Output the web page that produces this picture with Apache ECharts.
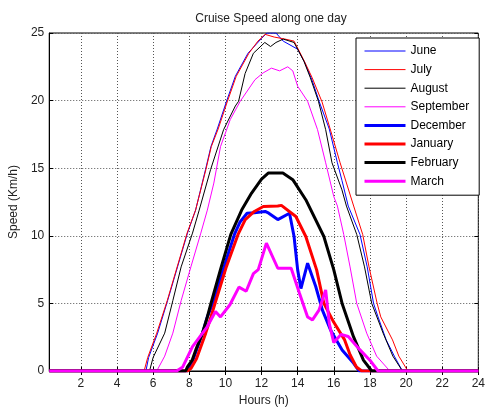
<!DOCTYPE html>
<html>
<head>
<meta charset="utf-8">
<script src="https://cdn.jsdelivr.net/npm/echarts@6/dist/echarts.min.js"></script>
<style>
  html, body { margin: 0; padding: 0; background: #fff; }
  #main { width: 488px; height: 412px; }
</style>
</head>
<body>
<div id="main"></div>
<script>
// hour ticks and month names
const hourTicks = [2, 4, 6, 8, 10, 12, 14, 16, 18, 20, 22, 24];
const months = ['June', 'July', 'August', 'September', 'December', 'January', 'February', 'March'];

// [hour, speed km/h]
const june = [[0.25,0],[5.6,0],[5.75,1.0],[6.25,2.8],[6.8,5.2],[7.35,7.7],[7.9,10.2],[8.35,11.9],[8.9,14.9],[9.2,16.6],[9.55,17.9],[10.05,19.9],[10.55,21.8],[11.25,23.5],[12.0,24.6],[12.3,25.0],[12.8,25.0],[13.2,24.4],[14.0,23.8],[14.4,22.8],[14.8,21.5],[15.2,19.9],[15.75,17.9],[16.2,15.4],[16.45,14.1],[16.8,12.2],[17.45,10.1],[17.85,7.7],[18.2,5.0],[18.45,4.0],[18.9,2.3],[19.35,1.1],[19.8,0],[24,0]];
const july = [[0.25,0],[5.5,0],[5.7,1.0],[6.2,2.8],[6.78,5.2],[7.33,7.7],[7.88,10.2],[8.35,11.9],[8.92,14.9],[9.22,16.6],[9.6,17.9],[10.1,19.9],[10.6,21.8],[11.3,23.5],[11.8,24.4],[12.2,24.9],[12.7,24.7],[13.3,24.55],[13.8,24.4],[14.3,23.1],[14.8,21.7],[15.35,19.9],[15.8,17.9],[16.35,15.4],[17.1,12.2],[17.6,10.1],[17.95,7.7],[18.4,5.0],[18.6,4.0],[19.25,2.3],[19.6,1.1],[20.1,0],[24,0]];
const august = [[0.25,0],[5.8,0],[6.0,1.0],[6.64,2.8],[7.09,5.2],[7.55,7.7],[8.18,10.2],[8.55,11.9],[9.18,14.9],[9.9,17.85],[10.55,19.6],[10.73,19.95],[11.09,22.0],[11.55,23.5],[12.18,24.3],[12.5,24.0],[12.8,24.3],[13.2,24.55],[13.8,24.3],[14.0,23.8],[14.35,22.9],[14.7,21.7],[15.15,19.95],[15.55,17.85],[15.9,15.4],[16.45,13.4],[16.7,12.2],[17.27,10.1],[17.7,7.7],[18.1,5.0],[18.73,2.8],[19.27,1.1],[19.8,0],[24,0]];
const september = [[0.25,0],[6.2,0],[6.64,1.1],[7.09,2.8],[7.55,5.2],[8.09,7.7],[8.64,10.2],[9.0,11.9],[9.36,13.9],[9.73,16.6],[10.27,18.6],[10.82,19.95],[11.64,21.55],[12.09,22.05],[12.55,22.4],[13.0,22.2],[13.45,22.5],[13.73,22.2],[14.0,21.06],[14.55,19.95],[15.1,17.85],[15.55,15.4],[16.0,12.9],[16.2,12.2],[16.55,10.1],[16.9,7.7],[17.27,5.0],[17.82,2.8],[18.37,1.1],[19.1,0],[24,0]];
const december = [[0.25,0],[7.9,0],[8.2,0.8],[8.73,2.8],[9.0,4.0],[9.36,5.2],[9.9,7.6],[10.5,10.1],[10.8,11.0],[11.2,11.67],[11.6,11.7],[12.2,11.8],[12.4,11.67],[12.9,11.2],[13.55,11.67],[13.8,9.95],[14.0,7.48],[14.18,6.1],[14.55,7.97],[15.0,6.25],[15.37,4.5],[15.82,3.04],[16.46,1.56],[17.1,0.57],[17.4,0],[24,0]];
const january = [[0.25,0],[7.9,0],[8.1,0.2],[8.4,0.9],[8.91,2.8],[9.2,4.0],[9.45,5.1],[10.05,7.7],[10.7,10.1],[11.1,11.2],[11.6,11.8],[12.1,12.17],[12.9,12.2],[13.1,12.25],[13.9,11.43],[14.45,9.95],[15.05,7.48],[15.45,5.0],[16.0,3.6],[16.6,2.3],[16.9,1.2],[17.25,0.3],[17.55,0],[24,0]];
const february = [[0.25,0],[7.8,0],[7.9,0.3],[8.16,0.8],[8.36,1.56],[8.73,2.8],[9.0,4.0],[9.2,5.0],[9.75,7.6],[10.3,10.1],[10.9,11.9],[11.45,13.16],[12.0,14.2],[12.37,14.64],[13.18,14.64],[13.73,14.15],[14.45,12.67],[15.45,9.95],[16.0,7.48],[16.46,5.0],[17.09,2.54],[17.64,0.8],[18.1,0],[24,0]];
const march = [[0.25,0],[7.3,0],[7.64,0.3],[8.18,1.8],[9.0,3.28],[9.45,4.4],[9.73,4.0],[10.25,4.9],[10.75,6.2],[10.85,6.1],[11.15,5.9],[11.55,7.2],[11.82,7.5],[12.27,9.46],[12.9,7.6],[13.0,7.48],[13.64,7.6],[14.1,5.75],[14.55,4.0],[14.82,3.78],[15.18,4.5],[15.55,6.0],[15.75,3.5],[16.0,2.1],[16.4,2.7],[16.8,2.55],[17.45,1.56],[18.0,0.8],[18.45,0],[24,0]];

const seriesData = [june, july, august, september, december, january, february, march];
const colors = ['#0000ff', '#ff0000', '#000000', '#ff00ff', '#0000ff', '#ff0000', '#000000', '#ff00ff'];
const widths = [1, 1, 1, 1, 3, 3, 3, 3];

const font = 'Liberation Sans, Arial, sans-serif';
const chart = echarts.init(document.getElementById('main'));

const gridLine = { show: true, lineStyle: { color: '#555', type: [1, 2], width: 1 } };

const option = {
  animation: false,
  backgroundColor: '#fff',
  title: {
    text: 'Cruise Speed along one day',
    left: 266, top: 8, textAlign: 'center',
    textStyle: { fontFamily: font, fontSize: 12, fontWeight: 'normal', color: '#222' }
  },
  grid: { left: 48, right: 4, top: 33, bottom: 41, show: true, borderColor: '#000', borderWidth: 1, backgroundColor: '#fff' },
  legend: {
    orient: 'vertical',
    left: 356, top: 38,
    // hide the marker circle, keep the line sample
    data: months.map((m, i) => ({
      name: m,
      itemStyle: { color: 'rgba(255,255,255,0)', borderColor: 'rgba(255,255,255,0)', borderWidth: 0 },
      lineStyle: { width: widths[i], color: colors[i] }
    })),
    itemWidth: 41, itemHeight: 14, itemGap: 6.6,
    padding: [7, 10, 8, 7],
    backgroundColor: '#fff', borderColor: '#000', borderWidth: 1,
    textStyle: { fontFamily: font, fontSize: 12, color: '#000' }
  },
  xAxis: [{
    type: 'value', min: 0.25, max: 24,
    name: 'Hours (h)', nameLocation: 'middle', nameGap: 24,
    nameTextStyle: { fontFamily: font, fontSize: 12, color: '#222' },
    axisLine: { show: true, onZero: false, lineStyle: { color: '#000' } },
    axisTick: { show: true, inside: true, length: 4, customValues: hourTicks, lineStyle: { color: '#000' } },
    axisLabel: { customValues: hourTicks, margin: 7, fontFamily: font, fontSize: 12, color: '#222' },
    splitLine: gridLine
  }, {
    type: 'value', min: 0.25, max: 24, position: 'top',
    axisLine: { show: false },
    axisTick: { show: true, inside: true, length: 4, customValues: hourTicks, lineStyle: { color: '#000' } },
    axisLabel: { show: false },
    splitLine: { show: false }
  }],
  yAxis: [{
    type: 'value', min: 0, max: 25, interval: 5,
    name: 'Speed (Km/h)', nameLocation: 'middle', nameGap: 26,
    nameTextStyle: { fontFamily: font, fontSize: 12, color: '#222' },
    axisLine: { show: true, lineStyle: { color: '#000' } },
    axisTick: { show: true, inside: true, length: 4, lineStyle: { color: '#000' } },
    axisLabel: { margin: 5, fontFamily: font, fontSize: 12, color: '#222' },
    splitLine: gridLine
  }, {
    type: 'value', min: 0, max: 25, interval: 5, position: 'right',
    axisLine: { show: false },
    axisTick: { show: true, inside: true, length: 4, lineStyle: { color: '#000' } },
    axisLabel: { show: false },
    splitLine: { show: false }
  }],
  series: months.map((name, i) => ({
    name: name,
    type: 'line',
    data: seriesData[i],
    symbol: 'none',
    showSymbol: false,
    clip: true,
    lineStyle: { color: colors[i], width: widths[i] },
    itemStyle: { color: colors[i] },
    z: 2 + i
  }))
};

chart.setOption(option);
</script>
</body>
</html>
